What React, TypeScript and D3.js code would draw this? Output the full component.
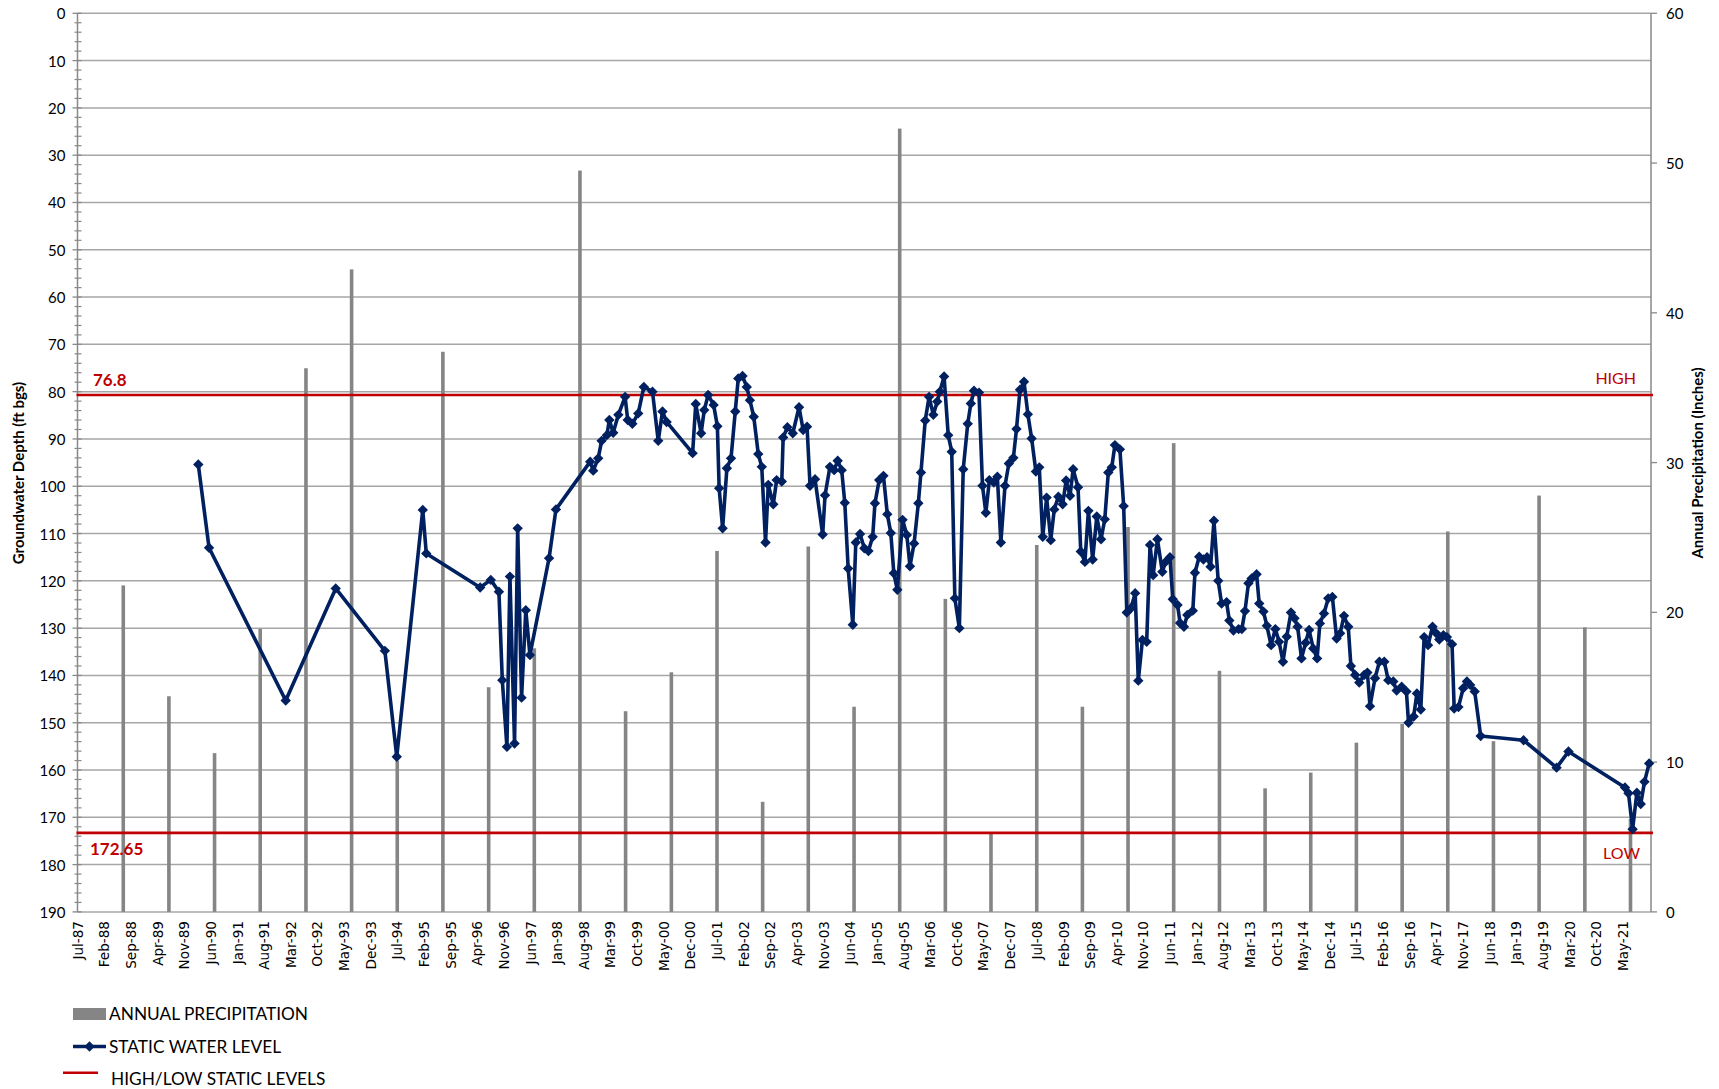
import React from "react";
import * as d3 from "d3";

const W = 1719;
const H = 1089;

const xTickLabels = [
  "Jul-87","Feb-88","Sep-88","Apr-89","Nov-89","Jun-90","Jan-91","Aug-91","Mar-92","Oct-92",
  "May-93","Dec-93","Jul-94","Feb-95","Sep-95","Apr-96","Nov-96","Jun-97","Jan-98","Aug-98",
  "Mar-99","Oct-99","May-00","Dec-00","Jul-01","Feb-02","Sep-02","Apr-03","Nov-03","Jun-04",
  "Jan-05","Aug-05","Mar-06","Oct-06","May-07","Dec-07","Jul-08","Feb-09","Sep-09","Apr-10",
  "Nov-10","Jun-11","Jan-12","Aug-12","Mar-13","Oct-13","May-14","Dec-14","Jul-15","Feb-16",
  "Sep-16","Apr-17","Nov-17","Jun-18","Jan-19","Aug-19","Mar-20","Oct-20","May-21"
];
const leftTicks = [0,10,20,30,40,50,60,70,80,90,100,110,120,130,140,150,160,170,180,190];
const rightTicks = [0,10,20,30,40,50,60];

const precipYears = [1988,1989,1990,1991,1992,1993,1994,1995,1996,1997,1998,1999,2000,2001,2002,2003,2004,
  2005,2006,2007,2008,2009,2010,2011,2012,2013,2014,2015,2016,2017,2018,2019,2020,2021];
const precipInches = [21.8,14.4,10.6,18.9,36.3,42.9,10.1,37.4,15.0,17.6,49.5,13.4,16.0,24.1,7.35,24.4,13.7,
  52.3,20.9,5.24,24.5,13.7,25.7,31.3,16.1,8.25,9.3,11.3,12.55,25.4,11.4,27.8,19.0,6.2];

const waterDates = [
  "1990-02-21","1990-05-18","1992-01-21","1993-02-24","1994-03-24","1994-06-27","1995-01-21","1995-02-18","1996-04-24","1996-07-18",
  "1996-09-21","1996-10-18","1996-11-24","1996-12-18","1997-01-24","1997-02-18","1997-03-21","1997-04-24","1997-05-27","1997-10-27",
  "1997-12-21","1998-09-21","1998-10-15","1998-11-24","1998-12-21","1999-02-01","1999-02-21","1999-03-24","1999-05-04","1999-06-27",
  "1999-07-18","1999-08-24","1999-10-10","1999-11-24","2000-02-01","2000-03-18","2000-04-21","2000-05-24","2000-12-18","2001-01-12",
  "2001-02-24","2001-03-21","2001-04-21","2001-06-04","2001-07-04","2001-07-18","2001-08-15","2001-09-18","2001-10-21","2001-11-24",
  "2001-12-18","2002-01-21","2002-02-24","2002-03-21","2002-04-21","2002-05-27","2002-06-24","2002-07-24","2002-08-15","2002-09-24",
  "2002-10-21","2002-12-01","2002-12-12","2003-01-15","2003-02-27","2003-04-18","2003-05-21","2003-06-21","2003-07-15","2003-08-24",
  "2003-10-24","2003-11-12","2003-12-21","2004-01-24","2004-02-21","2004-03-24","2004-04-18","2004-05-15","2004-06-21","2004-07-15",
  "2004-08-18","2004-09-21","2004-10-24","2004-11-27","2004-12-15","2005-01-18","2005-02-21","2005-03-24","2005-04-21","2005-05-15",
  "2005-06-12","2005-07-24","2005-08-27","2005-09-21","2005-10-24","2005-11-27","2005-12-18","2006-01-21","2006-02-21","2006-03-27",
  "2006-04-27","2006-05-18","2006-06-21","2006-07-24","2006-08-21","2006-09-15","2006-10-21","2006-11-21","2006-12-27","2007-01-21",
  "2007-02-15","2007-03-27","2007-04-24","2007-05-21","2007-06-18","2007-07-24","2007-08-21","2007-09-18","2007-10-21","2007-11-21",
  "2007-12-27","2008-01-21","2008-02-18","2008-03-21","2008-04-21","2008-05-21","2008-06-24","2008-07-21","2008-08-18","2008-09-18",
  "2008-10-21","2008-11-18","2008-12-21","2009-01-24","2009-02-21","2009-03-24","2009-04-18","2009-05-27","2009-06-18","2009-07-21",
  "2009-08-18","2009-09-21","2009-10-24","2009-11-27","2009-12-27","2010-01-24","2010-02-21","2010-03-18","2010-04-27","2010-05-27",
  "2010-06-21","2010-07-24","2010-08-27","2010-09-21","2010-10-24","2010-11-27","2010-12-24","2011-01-18","2011-02-21","2011-04-01",
  "2011-04-27","2011-06-01","2011-06-24","2011-08-01","2011-08-21","2011-09-21","2011-10-18","2011-12-01","2011-12-18","2012-01-21",
  "2012-02-24","2012-03-24","2012-04-21","2012-05-18","2012-06-21","2012-07-18","2012-08-27","2012-09-18","2012-10-21","2012-12-01",
  "2012-12-27","2013-01-21","2013-02-18","2013-03-15","2013-04-24","2013-05-15","2013-06-18","2013-07-15","2013-08-18","2013-09-21",
  "2013-10-21","2013-11-21","2013-12-21","2014-01-24","2014-02-21","2014-03-18","2014-04-18","2014-05-21","2014-06-18","2014-07-21",
  "2014-08-21","2014-09-12","2014-10-15","2014-11-18","2014-12-21","2015-01-24","2015-02-21","2015-03-24","2015-04-27","2015-05-18",
  "2015-06-21","2015-07-24","2015-09-01","2015-09-27","2015-10-18","2015-11-27","2016-01-01","2016-02-09","2016-03-12","2016-04-21",
  "2016-05-18","2016-06-27","2016-08-04","2016-08-21","2016-10-01","2016-10-27","2016-11-27","2016-12-24","2017-01-24","2017-03-01",
  "2017-03-27","2017-04-24","2017-05-27","2017-06-24","2017-08-04","2017-08-21","2017-09-24","2017-11-01","2017-12-01","2017-12-27",
  "2018-02-01","2018-03-21","2019-02-27","2019-11-18","2020-02-21","2021-05-18","2021-06-15","2021-07-18","2021-08-21","2021-09-21",
  "2021-10-21","2021-11-27"
];
const waterDepth = [
  95.4,113.0,145.3,121.6,134.8,157.2,105.0,114.2,121.4,119.8,
  122.3,141.0,155.1,119.1,154.4,108.9,144.7,126.2,135.7,115.2,
  104.9,94.8,96.7,94.1,90.4,89.2,86.0,88.7,84.9,81.1,
  86.0,86.8,84.6,79.0,80.0,90.4,84.2,86.4,93.0,82.6,
  88.8,83.9,80.7,82.8,87.3,100.4,108.9,96.2,94.1,84.2,
  77.2,76.7,79.0,81.8,85.3,93.2,95.9,111.9,99.7,103.8,
  98.7,99.0,89.7,87.5,88.8,83.3,88.1,87.4,99.9,98.5,
  110.2,101.9,95.9,96.6,94.6,96.6,103.5,117.4,129.3,111.9,
  110.1,113.1,113.7,110.7,103.6,98.7,97.8,105.9,109.9,118.4,
  121.9,107.1,110.3,116.9,112.1,103.6,97.1,86.1,81.1,84.9,
  82.1,80.0,76.8,89.2,92.7,123.7,130.0,96.4,86.8,82.5,
  79.8,80.2,99.9,105.6,98.7,99.2,98.0,111.9,99.9,95.2,
  94.0,87.9,79.6,77.9,84.8,89.9,96.9,96.0,110.7,102.4,
  111.4,104.9,102.2,103.8,98.8,102.0,96.4,100.2,113.8,116.0,
  105.2,115.5,106.4,111.2,107.0,97.1,96.0,91.3,92.2,104.2,
  126.7,125.8,122.6,141.1,132.5,132.9,112.4,118.8,111.2,118.1,
  116.0,115.0,123.9,125.1,128.9,129.7,127.2,126.3,118.3,114.9,
  115.5,115.0,117.0,107.3,120.0,124.8,124.5,128.4,130.5,130.2,
  130.2,126.4,120.5,119.5,118.6,124.8,126.5,129.5,133.6,130.2,
  132.9,137.1,131.8,126.7,127.9,129.7,136.4,133.1,130.4,134.3,
  136.4,129.0,126.9,123.7,123.4,132.2,131.1,127.4,129.7,138.0,
  139.9,141.5,139.9,139.4,146.5,140.6,137.1,137.1,141.0,141.3,
  143.2,142.4,143.4,150.0,148.7,143.8,147.2,131.9,133.6,129.7,
  131.0,132.4,131.5,131.9,133.4,147.0,146.7,142.7,141.3,142.0,
  143.4,152.8,153.7,159.5,156.1,163.7,164.9,172.5,164.8,167.2,
  162.5,158.6
];

const HIGH_LABEL = "76.8";
const LOW_LABEL = "172.65";
const highLineDepth = 80.7;
const lowLineDepth = 173.3;

const GRID = "#a6a6a6";
const AXIS = "#898989";
const BAR = "#858585";
const NAVY = "#002060";
const RED = "#c00000";
const CAL = "Lato, 'Open Sans', sans-serif";

export default function App() {
  const parseDate = d3.timeParse("%Y-%m-%d");
  const parseTick = d3.timeParse("%b-%y");

  const x = d3.scaleTime()
    .domain([new Date(1987, 6, 1), new Date(2021, 11, 12)])
    .range([77.5, 1651]);
  const y = d3.scaleLinear().domain([0, 190]).range([13.3, 911.9]);
  const y2 = d3.scaleLinear().domain([0, 60]).range([911.9, 13.3]);

  const left = x.range()[0];
  const right = x.range()[1];

  const water = waterDates
    .map((d, i) => ({ date: parseDate(d) as Date, depth: waterDepth[i] }))
    .filter((d) => d.depth !== undefined);

  const line = d3.line<{ date: Date; depth: number }>()
    .x((d) => x(d.date))
    .y((d) => y(d.depth));

  const minorTicks = d3.range(0, 191, 2).filter((v) => v % 10 !== 0);
  const diamond = "M0,-5.2L5.2,0L0,5.2L-5.2,0Z";

  return (
    <svg width={W} height={H} style={{ position: "absolute", left: 0, top: 0, background: "#fff" }}>
      <rect x={0} y={0} width={W} height={H} fill="#fff" />
      {leftTicks.map((t) => (
        <line key={"g" + t} x1={left} x2={right} y1={y(t)} y2={y(t)} stroke={GRID} strokeWidth={1.5} />
      ))}
      <line x1={left} x2={left} y1={y(0)} y2={y(190)} stroke={AXIS} strokeWidth={1.5} />
      <line x1={right} x2={right} y1={y(0)} y2={y(190)} stroke={AXIS} strokeWidth={1.5} />
      {leftTicks.map((t) => (
        <line key={"mt" + t} x1={left - 5} x2={left + 4} y1={y(t)} y2={y(t)} stroke={AXIS} strokeWidth={1.3} />
      ))}
      {minorTicks.map((t) => (
        <line key={"nt" + t} x1={left - 3} x2={left + 4} y1={y(t)} y2={y(t)} stroke={AXIS} strokeWidth={1.2} />
      ))}
      {rightTicks.map((t) => (
        <line key={"rt" + t} x1={right} x2={right + 6} y1={y2(t)} y2={y2(t)} stroke={AXIS} strokeWidth={1.3} />
      ))}
      {leftTicks.map((t) => (
        <text key={"lt" + t} x={left - 12} y={y(t)} textAnchor="end" dominantBaseline="central"
          fontFamily={CAL} fontSize={15} fill="#000">{t}</text>
      ))}
      {rightTicks.map((t) => (
        <text key={"rl" + t} x={right + 15} y={y2(t)} textAnchor="start" dominantBaseline="central"
          fontFamily={CAL} fontSize={15} fill="#000">{t}</text>
      ))}
      {xTickLabels.map((lab) => {
        const xx = x(parseTick(lab) as Date);
        return (
          <text key={"xl" + lab} transform={`translate(${xx},921) rotate(-90)`} textAnchor="end"
            dominantBaseline="central" fontFamily="'DejaVu Sans', sans-serif" fontSize={13.6} fill="#000">{lab}</text>
        );
      })}
      {precipYears.map((yr, i) => {
        const xx = x(new Date(yr, 6, 1));
        return (
          <rect key={"b" + yr} x={xx - 1.8} width={3.6} y={y2(precipInches[i])}
            height={y2(0) - y2(precipInches[i])} fill={BAR} />
        );
      })}
      <line x1={left - 1} x2={right + 2} y1={y(highLineDepth)} y2={y(highLineDepth)} stroke={RED} strokeWidth={2.6} />
      <line x1={left - 1} x2={right + 2} y1={y(lowLineDepth)} y2={y(lowLineDepth)} stroke={RED} strokeWidth={2.6} />
      <text x={93} y={386} fontFamily={CAL} fontWeight="bold" fontSize={17} fill={RED}>{HIGH_LABEL}</text>
      <text x={90} y={855} fontFamily={CAL} fontWeight="bold" fontSize={17} fill={RED}>{LOW_LABEL}</text>
      <text x={1636} y={384} textAnchor="end" fontFamily={CAL} fontSize={16} fill={RED}>HIGH</text>
      <text x={1640} y={859} textAnchor="end" fontFamily={CAL} fontSize={16} fill={RED}>LOW</text>
      <path d={line(water) || ""} fill="none" stroke={NAVY} strokeWidth={3.6} strokeLinejoin="round" />
      {water.map((d, i) => (
        <path key={"m" + i} d={diamond} transform={`translate(${x(d.date)},${y(d.depth)})`} fill={NAVY} />
      ))}
      <text transform="translate(18,473) rotate(-90)" textAnchor="middle" dominantBaseline="central"
        fontFamily={CAL} fontWeight="bold" fontSize={15} fill="#000">Groundwater Depth (ft bgs)</text>
      <text transform="translate(1697,463) rotate(-90)" textAnchor="middle" dominantBaseline="central"
        fontFamily={CAL} fontWeight="bold" fontSize={15} fill="#000">Annual Precipitation (Inches)</text>
      <rect x={73} y={1008} width={33} height={12} fill={BAR} />
      <text x={109} y={1013.5} dominantBaseline="central" fontFamily={CAL} fontSize={17.3} fill="#000">ANNUAL PRECIPITATION</text>
      <line x1={73} x2={106} y1={1046.5} y2={1046.5} stroke={NAVY} strokeWidth={3.3} />
      <path d={diamond} transform="translate(89.5,1046.5)" fill={NAVY} />
      <text x={109} y={1046.5} dominantBaseline="central" fontFamily={CAL} fontSize={17.3} fill="#000">STATIC WATER LEVEL</text>
      <line x1={63} x2={98} y1={1072.7} y2={1072.7} stroke={RED} strokeWidth={2.6} />
      <text x={111} y={1078.5} dominantBaseline="central" fontFamily={CAL} fontSize={17.3} fill="#000">HIGH/LOW STATIC LEVELS</text>
    </svg>
  );
}
